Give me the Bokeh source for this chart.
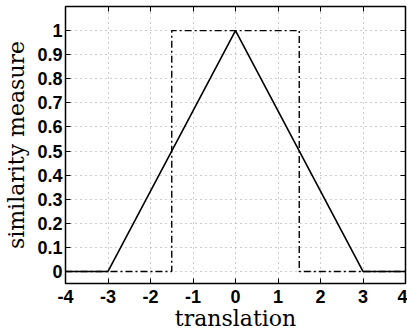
from bokeh.plotting import figure
from bokeh.models import LinearAxis, FixedTicker, Range1d, CustomLabelingPolicy
from bokeh.embed import file_html
from bokeh.resources import INLINE

# Similarity of two box signals versus translation
x_ticks = [-4, -3, -2, -1, 0, 1, 2, 3, 4]
x_tick_labels = ["-4", "-3", "-2", "-1", "0", "1", "2", "3", "4"]
y_ticks = [0, 0.1, 0.2, 0.3, 0.4, 0.5, 0.6, 0.7, 0.8, 0.9, 1]
y_tick_labels = ["0", "0.1", "0.2", "0.3", "0.4", "0.5", "0.6", "0.7", "0.8", "0.9", "1"]

# triangular similarity (solid)
tri_x = [-4, -3, 0, 3, 4]
tri_y = [0, 0, 1, 0, 0]

# rectangular similarity (dash-dot)
rect_x = [-4, -1.5, -1.5, 1.5, 1.5, 4]
rect_y = [0, 0, 1, 1, 0, 0]

p = figure(frame_width=340, frame_height=277,
           x_range=Range1d(-4, 4), y_range=Range1d(-0.05, 1.1),
           output_backend="svg", toolbar_location=None,
           min_border_left=65, min_border_top=6, min_border_right=2,
           min_border_bottom=46)
p.background_fill_color = "white"
p.border_fill_color = "white"
p.outline_line_color = "black"
p.outline_line_width = 1.5

tick_font = "Liberation Sans"
label_font = "DejaVu Serif"

p.xaxis.ticker = FixedTicker(ticks=x_ticks)
p.xaxis.major_label_overrides = dict(zip(x_ticks, x_tick_labels))
p.yaxis.ticker = FixedTicker(ticks=y_ticks)
p.yaxis.major_label_overrides = dict(zip(y_ticks, y_tick_labels))

for ax in (p.xaxis[0], p.yaxis[0]):
    ax.axis_line_color = None
    ax.major_tick_in = 5
    ax.major_tick_out = 0
    ax.minor_tick_line_color = None
    ax.major_tick_line_color = "black"
    ax.major_label_text_font = tick_font
    ax.major_label_text_font_style = "bold"
    ax.major_label_text_font_size = "18px"
    ax.major_label_text_color = "black"
    ax.axis_label_text_font = label_font
    ax.axis_label_text_font_style = "normal"
    ax.axis_label_text_font_size = "22px"
    ax.axis_label_text_color = "black"

p.xaxis.axis_label = "translation"
p.xaxis.major_label_standoff = 6
p.xaxis.axis_label_standoff = 0
p.yaxis.axis_label = "similarity measure"
p.yaxis.major_label_standoff = 3
p.yaxis.axis_label_standoff = 5

# mirrored tick marks on the top and right edges, without labels
def tick_only_axis(ticks):
    return LinearAxis(ticker=FixedTicker(ticks=ticks), axis_line_color=None,
                      major_tick_in=5, major_tick_out=0, major_label_standoff=0,
                      major_label_text_font_size="0px",
                      minor_tick_line_color=None,
                      major_label_policy=CustomLabelingPolicy(
                          code="for (const i of [...indices]) indices.unset(i); return indices"))

p.add_layout(tick_only_axis(x_ticks), "above")
p.add_layout(tick_only_axis(y_ticks), "right")

p.xgrid.ticker = FixedTicker(ticks=x_ticks)
p.ygrid.ticker = FixedTicker(ticks=y_ticks)
for g in (p.xgrid[0], p.ygrid[0]):
    g.grid_line_color = "#9a9a9a"
    g.grid_line_dash = "1 4"
    g.grid_line_width = 1

p.line(rect_x, rect_y, line_color="black", line_width=1.4, line_dash="7 3 2 3")
p.line(tri_x, tri_y, line_color="black", line_width=1.6)

open("out.html", "w").write(file_html(p, INLINE))
